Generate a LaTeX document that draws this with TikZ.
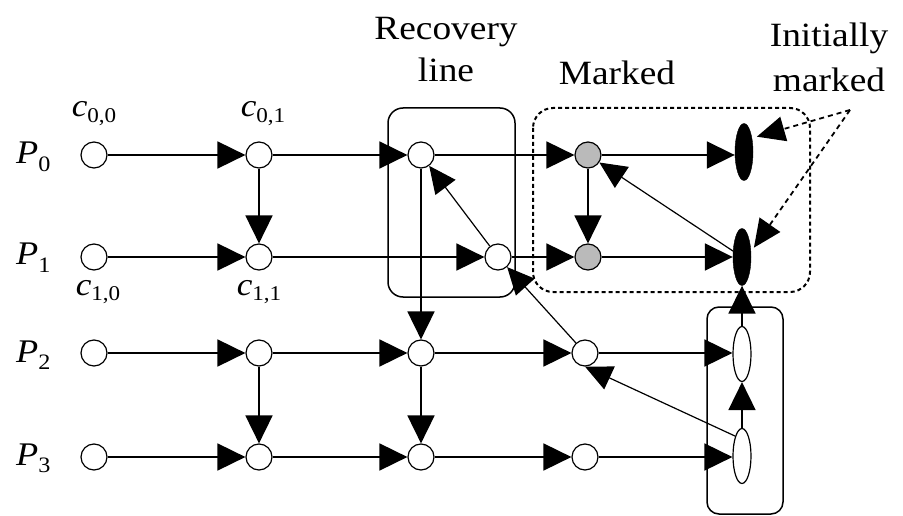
\documentclass[tikz,border=0pt]{standalone}
\usepackage{fontspec}
\setmainfont{Liberation Serif}
\usepackage{graphicx}
\usetikzlibrary{arrows.meta,shapes.geometric}
\newcommand\hs[1]{\scalebox{1.1}[1]{#1}}
\newcommand\plab[1]{\hs{\fontsize{33}{34}\selectfont\textit{P}\raisebox{-0.22em}{\fontsize{22}{24}\selectfont #1}}}
\newcommand\clab[2]{\hs{\fontsize{32}{33}\selectfont\textit{c}\raisebox{-0.18em}{\fontsize{21}{22}\selectfont #1,#2}}}
\begin{document}
\begin{tikzpicture}[x=1pt,y=-1pt,
  ev/.style={circle,draw,line width=1.2pt,minimum size=26pt,inner sep=0pt,fill=white},
  mk/.style={ev,fill=black!27},
  bl/.style={ellipse,draw,fill=black,minimum width=18pt,minimum height=57pt,inner sep=0pt},
  wh/.style={ellipse,draw,line width=1.2pt,fill=white,minimum width=18pt,minimum height=55pt,inner sep=0pt},
  msg/.style={line width=1.8pt,-{Triangle[length=28pt,width=27pt]}},
  dep/.style={line width=1.2pt,-{Triangle[length=27pt,width=25pt]}},
  ann/.style={line width=1.8pt,dash pattern=on 5pt off 4pt,-{Triangle[length=28pt,width=25pt]},shorten >=5pt},
  lab/.style={font=\fontsize{34}{36}\selectfont,inner sep=0pt,anchor=base},
  plabel/.style={inner sep=0pt,anchor=base west},
  clabel/.style={inner sep=0pt,anchor=base}]
\useasboundingbox (0,0) rectangle (903,516);
\fill[white] (0,0) rectangle (903,516);

% group boxes
\draw[line width=1.5pt,rounded corners=15pt] (388,108) rectangle (515,297);
\draw[line width=2pt,dash pattern=on 4pt off 3pt,rounded corners=20pt] (533,108) rectangle (810,292);
\draw[line width=1.5pt,rounded corners=12pt] (707,307) rectangle (783,514);

% labels
\node[lab] (trec) at (446,40) {\hs{Recovery}};
\node[lab] (tline) at (446,82) {\hs{line}};
\node[lab] (tmark) at (617,85) {\hs{Marked}};
\node[lab] (tini) at (829,47) {\hs{Initially}};
\node[lab] (tinim) at (829,92) {\hs{marked}};

\node[plabel] (lp0) at (16,164) {\plab{0}};
\node[plabel] (lp1) at (16,265) {\plab{1}};
\node[plabel] (lp2) at (16,362) {\plab{2}};
\node[plabel] (lp3) at (16,465) {\plab{3}};

\node[clabel] (lc00) at (94,117) {\clab{0}{0}};
\node[clabel] (lc01) at (263,117) {\clab{0}{1}};
\node[clabel] (lc10) at (98,295) {\clab{1}{0}};
\node[clabel] (lc11) at (259,295) {\clab{1}{1}};

% events
\node[ev] (p00) at (94,155) {};
\node[ev] (p01) at (259,155) {};
\node[ev] (p02) at (421,155) {};
\node[mk] (m0)  at (588,155) {};
\node[bl] (b0)  at (744,152) {};

\node[ev] (p10) at (94,257) {};
\node[ev] (p11) at (259,257) {};
\node[ev] (p12) at (498,257) {};
\node[mk] (m1)  at (588,257) {};
\node[bl] (b1)  at (742,257) {};

\node[ev] (p20) at (94,353) {};
\node[ev] (p21) at (259,353) {};
\node[ev] (p22) at (421,353) {};
\node[ev] (p23) at (585,353) {};
\node[wh] (w2)  at (742,354) {};

\node[ev] (p30) at (94,457) {};
\node[ev] (p31) at (259,457) {};
\node[ev] (p32) at (421,457) {};
\node[ev] (p33) at (585,457) {};
\node[wh] (w3)  at (742,456) {};

% horizontal process lines
\draw[msg] (p00) -- (p01);
\draw[msg] (p01) -- (p02);
\draw[msg] (p02) -- (m0);
\draw[msg] (m0) -- (b0.west |- m0);
\draw[msg] (p10) -- (p11);
\draw[msg] (p11) -- (p12);
\draw[msg] (p12) -- (m1);
\draw[msg] (m1) -- (b1);
\draw[msg] (p20) -- (p21);
\draw[msg] (p21) -- (p22);
\draw[msg] (p22) -- (p23);
\draw[msg] (p23) -- (w2.west |- p23);
\draw[msg] (p30) -- (p31);
\draw[msg] (p31) -- (p32);
\draw[msg] (p32) -- (p33);
\draw[msg] (p33) -- (w3.west |- p33);

% vertical dependencies
\draw[msg] (p01) -- (p11);
\draw[msg] (p02) -- (p22);
\draw[msg] (p21) -- (p31);
\draw[msg] (p22) -- (p32);
\draw[msg] (m0) -- (m1);
\draw[msg] (w3) -- (w2);
\draw[msg] (w2) -- (b1);

% diagonal dependencies
\draw[dep] (p12) -- (p02);
\draw[dep] (p23) -- (p12);
\draw[dep] (w3.north west) -- (p23.south);
\draw[dep] (b1) -- (m0);

% initially marked pointers
\coordinate (apex) at (850,110);
\draw[ann] (apex) -- (b0.60);
\draw[ann] (apex) -- (b1.30);
\end{tikzpicture}
\end{document}
